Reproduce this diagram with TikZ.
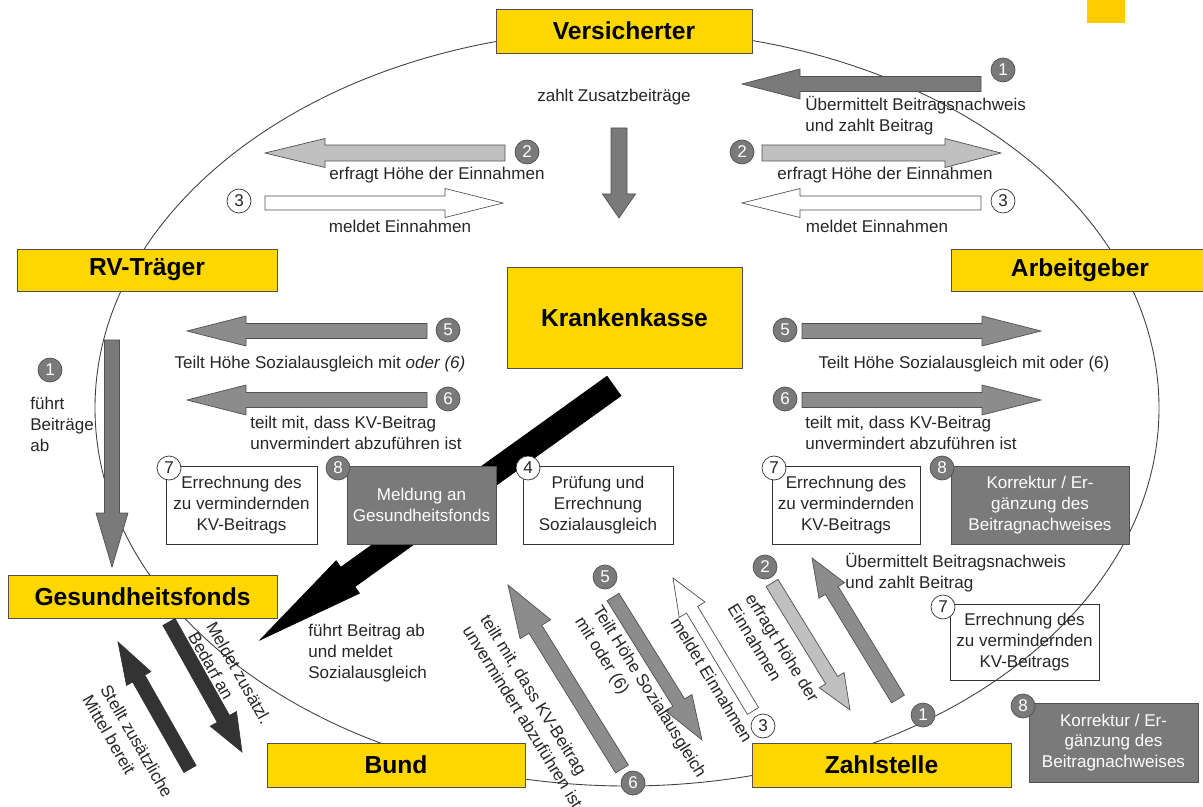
\documentclass[tikz,border=0pt]{standalone}
\usepackage{fontspec}
\setmainfont{Liberation Sans}

\definecolor{kkyellow}{HTML}{FFD700}
\definecolor{cornergold}{HTML}{FFCC00}
\definecolor{lightgrey}{HTML}{C0C0C0}
\definecolor{midgrey}{HTML}{8C8C8C}
\definecolor{darkgrey}{HTML}{7A7A7A}
\definecolor{blackgrey}{HTML}{333333}
\definecolor{rimgrey}{HTML}{505050}

\newcommand{\labelfont}{\fontsize{9.7}{11.9}\selectfont}

% block arrow: [style] {tail x}{tail y}{tip x}{tip y}{shaft half}{head half}{head length}
\newcommand{\blockarrow}[8][]{%
  \pgfmathsetmacro{\baang}{atan2(#3-#5,#4-#2)}%
  \pgfmathsetmacro{\balen}{veclen(#4-#2,#5-#3)}%
  \pgfmathsetmacro{\baneck}{\balen-#8}%
  \begin{scope}[shift={(#2,#3)}, rotate=\baang]
    \draw[#1] (0,-#6) -- (\baneck,-#6) -- (\baneck,-#7) -- (\balen,0)
      -- (\baneck,#7) -- (\baneck,#6) -- (0,#6) -- cycle;
  \end{scope}}

\begin{document}
\begin{tikzpicture}[x=0.02cm, y=-0.02cm]
    % Node styles
    \tikzstyle{party_box} = [rectangle, draw=rimgrey, fill=kkyellow, inner sep=0pt, outer sep=0pt, font=\fontsize{14}{16}\selectfont\bfseries]
    \tikzstyle{task_box} = [rectangle, draw=black!80, align=center, inner sep=0pt, outer sep=0pt, minimum height=1.56cm, font=\labelfont, text=black!85]
    \tikzstyle{dark_box} = [task_box, fill=darkgrey, draw=rimgrey, text=white]
    \tikzstyle{num_dark} = [circle, draw=rimgrey, fill=darkgrey, text=white, minimum size=0.48cm, inner sep=0pt, font=\labelfont]
    \tikzstyle{num_light} = [circle, draw=black!80, fill=white, text=black!85, minimum size=0.48cm, inner sep=0pt, font=\labelfont]
    \tikzstyle{note_text} = [inner sep=0pt, font=\labelfont, text=black!85, align=left]
    \tikzstyle{arrow_body} = [draw=rimgrey, line width=0.4pt]

    \useasboundingbox (0,0) rectangle (1203,807);

    % Cycle
    \draw[black!75, line width=0.5pt] (627,408) ellipse [x radius=532, y radius=378];
    \fill[cornergold] (1087,0) rectangle (1125,23);

    % Payment to the fund (behind the boxes)
    \blockarrow[arrow_body, fill=black, draw=black]{614}{386}{260}{640}{12}{20}{108}

    % Parties
    \node[party_box, minimum width=5.12cm, minimum height=0.88cm] (vers) at (624,31) {Versicherter};
    \node[party_box, minimum width=5.2cm, minimum height=0.84cm] (rv) at (147,270) {RV-Träger};
    \node[party_box, minimum width=5.16cm, minimum height=0.84cm] (arb) at (1080,270) {Arbeitgeber};
    \node[party_box, minimum width=4.7cm, minimum height=2.02cm] (kk) at (624.5,317.5) {Krankenkasse};
    \node[party_box, minimum width=5.38cm, minimum height=0.86cm] (gf) at (142.5,596.5) {Gesundheitsfonds};
    \node[party_box, minimum width=5.16cm, minimum height=0.88cm] (bund) at (396,765) {Bund};
    \node[party_box, minimum width=5.18cm, minimum height=0.88cm] (zahl) at (881.5,765) {Zahlstelle};

    % Tasks
    \node[task_box, minimum width=3.02cm] (err_rv) at (241.5,505) {Errechnung des\\zu vermindernden\\KV-Beitrags};
    \node[dark_box, minimum width=2.98cm] (meld) at (421.5,505) {Meldung an\\Gesundheitsfonds};
    \node[task_box, minimum width=3.0cm] (pruef) at (598,505) {Prüfung und\\Errechnung\\Sozialausgleich};
    \node[task_box, minimum width=2.96cm] (err_ag) at (846,505) {Errechnung des\\zu vermindernden\\KV-Beitrags};
    \node[dark_box, minimum width=3.56cm] (korr_ag) at (1040,505) {Korrektur / Er-\\gänzung des\\Beitragnachweises};
    \node[task_box, minimum width=2.98cm, minimum height=1.52cm] (err_zs) at (1024.5,642) {Errechnung des\\zu vermindernden\\KV-Beitrags};
    \node[dark_box, minimum width=3.38cm, minimum height=1.58cm] (korr_zs) at (1113.5,742.5) {Korrektur / Er-\\gänzung des\\Beitragnachweises};

    % Arrows
    \blockarrow[arrow_body, fill=darkgrey]{619}{128}{619}{218}{8}{16.5}{24}
    \blockarrow[arrow_body, fill=darkgrey]{981}{84}{742}{84}{7.5}{15}{58}
    \blockarrow[arrow_body, fill=lightgrey]{505}{153}{265}{153}{8}{14.5}{60}
    \blockarrow[arrow_body, fill=white]{265}{203}{503}{203}{7}{14.5}{58}
    \blockarrow[arrow_body, fill=lightgrey]{762}{153}{1001}{153}{8}{14.5}{56}
    \blockarrow[arrow_body, fill=white]{981}{203}{742}{203}{7}{14.5}{58}
    \blockarrow[arrow_body, fill=midgrey]{427}{331}{187}{331}{7.5}{15}{59}
    \blockarrow[arrow_body, fill=midgrey]{427}{400}{187}{400}{7.5}{15}{59}
    \blockarrow[arrow_body, fill=midgrey]{802}{331}{1041}{331}{7.5}{15}{59}
    \blockarrow[arrow_body, fill=midgrey]{802}{400}{1041}{400}{7.5}{15}{59}
    \blockarrow[arrow_body, fill=darkgrey]{112}{340}{112}{567}{7.5}{16}{54}
    \blockarrow[arrow_body, fill=blackgrey, draw=blackgrey]{169}{622}{242}{752}{7}{15}{38}
    \blockarrow[arrow_body, fill=blackgrey, draw=blackgrey]{190}{769}{118}{642}{7}{14}{42}
    \blockarrow[arrow_body, fill=midgrey]{622}{769}{508}{585}{7.5}{18}{52}
    \blockarrow[arrow_body, fill=midgrey]{613}{597}{702}{740}{7}{15.5}{44}
    \blockarrow[arrow_body, fill=white]{753}{711}{673}{578}{6.5}{15}{37}
    \blockarrow[arrow_body, fill=lightgrey]{772}{583}{850}{710}{7}{14.5}{35}
    \blockarrow[arrow_body, fill=midgrey]{898}{699}{812}{558}{7.5}{15}{38}

    % Step numbers
    \node[num_dark] (n1_ag) at (1003,70) {1};
    \node[num_dark] (n2_rv) at (527,152) {2};
    \node[num_light] (n3_rv) at (239,201) {3};
    \node[num_dark] (n2_ag) at (742,152) {2};
    \node[num_light] (n3_ag) at (1003,201) {3};
    \node[num_dark] (n5_rv) at (448,330) {5};
    \node[num_dark] (n6_rv) at (448,399) {6};
    \node[num_dark] (n5_ag) at (785,330) {5};
    \node[num_dark] (n6_ag) at (785,399) {6};
    \node[num_dark] (n1_rv) at (50,370) {1};
    \node[num_light] (n7_rv) at (169,468) {7};
    \node[num_dark] (n8_rv) at (338,468) {8};
    \node[num_light] (n4_kk) at (528,468) {4};
    \node[num_light] (n7_ag) at (774,468) {7};
    \node[num_dark] (n8_ag) at (942,468) {8};
    \node[num_dark] (n5_zs) at (605,577) {5};
    \node[num_dark] (n6_zs) at (633,783) {6};
    \node[num_light] (n3_zs) at (763,726) {3};
    \node[num_dark] (n2_zs) at (765,567) {2};
    \node[num_dark] (n1_zs) at (923,715) {1};
    \node[num_light] (n7_zs) at (943,607) {7};
    \node[num_dark] (n8_zs) at (1023,706) {8};

    % Labels
    \node[note_text] (t_zusatz) at (614,97) {zahlt Zusatzbeiträge};
    \node[note_text, anchor=west] (t_uebag) at (805,116) {Übermittelt Beitragsnachweis\\und zahlt Beitrag};
    \node[note_text] (t_erf_rv) at (437,175) {erfragt Höhe der Einnahmen};
    \node[note_text] (t_mel_rv) at (400,226) {meldet Einnahmen};
    \node[note_text] (t_erf_ag) at (885,175) {erfragt Höhe der Einnahmen};
    \node[note_text] (t_mel_ag) at (877,226) {meldet Einnahmen};
    \node[note_text] (t_soz_rv) at (320,364) {Teilt Höhe Sozialausgleich mit \textit{oder (6)}};
    \node[note_text, anchor=west] (t_kv_rv) at (250,433) {teilt mit, dass KV-Beitrag\\unvermindert abzuführen ist};
    \node[note_text] (t_soz_ag) at (964,364) {Teilt Höhe Sozialausgleich mit oder (6)};
    \node[note_text, anchor=west] (t_kv_ag) at (805,433) {teilt mit, dass KV-Beitrag\\unvermindert abzuführen ist};
    \node[note_text, anchor=west] (t_rv) at (30,424) {führt\\Beiträge\\ab};
    \node[note_text, anchor=west] (t_fonds) at (308,653) {führt Beitrag ab\\und meldet\\Sozialausgleich};
    \node[note_text, anchor=west, rotate=-60.7] (t_bedarf) at (202,628) {Meldet zusätzl.\\Bedarf an};
    \node[note_text, anchor=west, rotate=-60] (t_mittel) at (96,691) {Stellt zusätzliche\\Mittel bereit};
    \node[note_text, anchor=west, rotate=-58.2] (t_kv_zs) at (476,621) {teilt mit, dass KV-Beitrag\\unvermindert abzuführen ist};
    \node[note_text, anchor=west, rotate=-58] (t_soz_zs) at (587,613) {Teilt Höhe Sozialausgleich\\mit oder (6)};
    \node[note_text, rotate=-59] (t_mel_zs) at (712,680) {meldet Einnahmen};
    \node[note_text, anchor=west, rotate=-58.4] (t_erf_zs) at (741,600) {erfragt Höhe der\\Einnahmen};
    \node[note_text, anchor=west] (t_ueb_zs) at (845,573) {Übermittelt Beitragsnachweis\\und zahlt Beitrag};
\end{tikzpicture}
\end{document}
